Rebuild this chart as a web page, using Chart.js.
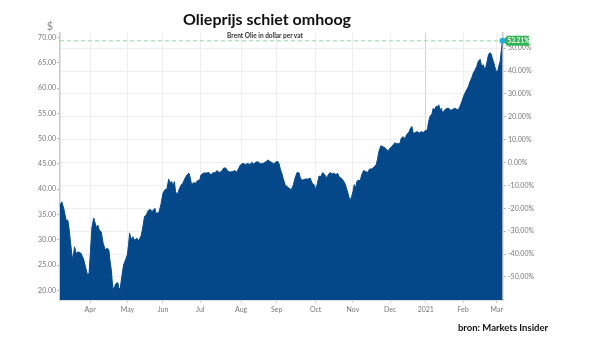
<!DOCTYPE html>
<html>
<head>
<meta charset="utf-8">
<title>Olieprijs schiet omhoog</title>
<script src="https://cdn.jsdelivr.net/npm/chart.js@4.4.1/dist/chart.umd.min.js"></script>
<style>
  html, body { margin: 0; padding: 0; background: #fff; }
  .wrap { position: relative; width: 600px; height: 343px; font-family: Lato, "Open Sans", sans-serif; }
  .wrap canvas { position: absolute; left: 0; top: 0; }
  .txt { position: absolute; white-space: nowrap; transform: translateX(-50%); line-height: 1; }
  #title { left: 267px; top: 11px; font-size: 16px; font-weight: bold; color: #111; }
  #dollar { left: 50px; top: 20px; font-size: 11px; color: #888; }
  #subtitle { left: 265px; top: 33px; font-size: 6.5px; font-weight: bold; color: #333; }
  #source { left: 503px; top: 323px; font-size: 9.5px; font-weight: bold; color: #111; }
</style>
</head>
<body>
<div class="wrap">
  <canvas id="oilChart" width="600" height="343"></canvas>
  <div class="txt" id="title">Olieprijs schiet omhoog</div>
  <div class="txt" id="dollar">$</div>
  <div class="txt" id="subtitle">Brent Olie in dollar per vat</div>
  <div class="txt" id="source">bron: Markets Insider</div>
</div>
<script>
// trading day index (0 = 5 maart 2020) and Brent price in dollar
const tradingDay = [
  2, 3.0, 4.1, 5.5, 6.4, 7.2, 7.9, 8.6, 9.2, 10.2,
  11.1, 12.4, 13.9, 15.4, 16.8, 17.7, 18.4, 19.2, 20.0, 21.0,
  21.8, 22.6, 23.3, 24.1, 25.2, 26.3, 27.5, 28.6, 29.5, 30.1,
  30.9, 31.8, 32.7, 33.7, 34.6, 35.1, 35.9, 36.8, 37.8, 38.9,
  39.9, 40.6, 41.2, 42.1, 43.0, 44.0, 45.3, 46.4, 47.8, 48.7,
  49.6, 50.6, 51.7, 52.9, 53.8, 54.7, 55.4, 56.2, 57.7, 58.8,
  60.0, 61.1, 62.2, 63.2, 63.9, 64.9, 65.6, 66.4, 67.1, 68.1,
  69.0, 70.3, 71.2, 72.2, 73.5, 74.6, 75.4, 76.1, 77.3, 78.4,
  79.5, 80.7, 81.4, 82.9, 84.4, 85.9, 87.0, 88.2, 89.3, 90.4,
  91.5, 92.9, 94.2, 95.3, 96.6, 98.0, 99.4, 100.6, 101.4, 102.5,
  103.6, 105.1, 106.6, 107.7, 108.9, 110.0, 111.1, 112.6, 113.8, 114.9,
  116.4, 117.9, 119.0, 120.1, 121.3, 122.4, 123.5, 124.7, 125.4, 126.2,
  126.9, 127.6, 128.8, 129.9, 131.0, 132.2, 133.3, 134.4, 135.5, 136.7,
  137.5, 138.6, 140.3, 141.7, 142.9, 144.0, 145.1, 146.1, 147.0, 147.9,
  148.9, 150.0, 151.2, 152.1, 153.0, 154.1, 155.3, 156.4, 157.5, 158.3,
  159.1, 160.2, 161.3, 162.4, 163.6, 164.7, 165.4, 166.2, 167.0, 167.7,
  168.5, 169.2, 169.9, 171.1, 171.9, 173.0, 174.1, 175.2, 176.4, 177.8,
  179.0, 180.1, 180.9, 181.6, 182.7, 183.9, 185.0, 186.0, 186.9, 187.8,
  188.8, 189.7, 190.6, 191.6, 192.5, 193.5, 194.2, 195.3, 196.3, 197.2,
  198.4, 199.5, 200.2, 201.0, 202.1, 203.2, 204.3, 205.5, 206.6, 207.7,
  208.9, 209.6, 210.4, 211.5, 212.2, 213.0, 213.8, 214.5, 215.3, 216.0,
  216.8, 217.5, 218.7, 219.8, 220.9, 222.1, 223.2, 224.3, 225.4, 226.3,
  227.3, 228.3, 229.2, 230.1, 231.1, 232.0, 232.9, 233.9, 234.8, 235.8,
  236.7, 237.6, 238.6, 239.5, 240.4, 241.4, 242.4, 243.3, 244.1, 244.8,
  245.5, 246.3, 247.4, 248.3, 249.1, 249.9, 250.6, 251.2
];
const brentPrice = [
  36.8, 37.5, 36.2, 33.8, 33.9, 31.9, 29.6, 27.3, 26.0, 28.6,
  27.3, 27.6, 27.3, 26.0, 24.0, 22.8, 23.5, 28.0, 32.5, 34.3,
  33.3, 32.3, 32.9, 31.9, 31.6, 29.3, 28.0, 28.3, 28.0, 26.0,
  24.0, 20.1, 20.7, 21.4, 21.5, 20.4, 20.3, 22.7, 25.0, 26.0,
  27.0, 29.0, 31.3, 30.0, 30.6, 29.9, 30.3, 29.8, 30.9, 32.6,
  34.6, 34.9, 35.8, 36.0, 35.6, 35.9, 36.2, 35.2, 35.4, 36.9,
  39.2, 39.9, 40.0, 42.0, 41.2, 41.5, 40.6, 41.5, 39.5, 38.9,
  39.9, 40.9, 41.2, 42.0, 42.8, 43.2, 42.2, 40.9, 41.3, 41.2,
  41.7, 41.8, 42.8, 43.2, 43.2, 43.3, 42.8, 43.3, 43.2, 43.7,
  43.3, 43.5, 44.2, 44.2, 43.5, 43.4, 43.5, 43.7, 43.3, 44.0,
  44.8, 45.1, 44.9, 45.1, 44.9, 45.3, 45.0, 45.4, 45.4, 45.0,
  45.1, 45.4, 45.8, 45.5, 45.3, 45.0, 45.4, 45.5, 45.0, 43.8,
  43.2, 42.2, 40.9, 40.5, 40.2, 39.9, 40.7, 42.2, 43.3, 43.2,
  42.0, 41.8, 42.0, 42.0, 42.2, 41.2, 40.9, 39.9, 41.2, 42.6,
  42.5, 43.3, 42.8, 42.2, 42.8, 43.3, 43.0, 43.2, 42.8, 43.2,
  42.5, 42.2, 41.8, 41.2, 39.9, 38.5, 37.7, 38.5, 39.5, 40.9,
  40.2, 41.5, 41.8, 41.7, 42.8, 43.7, 43.5, 43.3, 44.0, 44.0,
  44.5, 44.8, 46.1, 47.4, 48.6, 48.4, 48.2, 47.8, 47.6, 48.1,
  48.4, 48.8, 49.2, 49.0, 49.0, 49.1, 50.1, 50.4, 49.9, 50.8,
  51.2, 52.1, 52.4, 51.0, 51.2, 51.4, 51.1, 51.4, 51.2, 51.6,
  51.7, 53.4, 54.4, 54.9, 56.0, 55.7, 56.4, 56.2, 56.7, 55.7,
  56.0, 55.0, 55.7, 56.0, 56.0, 55.6, 55.8, 56.0, 55.8, 55.7,
  56.4, 57.3, 58.3, 59.0, 59.7, 60.3, 61.3, 62.0, 63.0, 63.6,
  64.3, 65.3, 65.7, 64.3, 64.6, 63.5, 65.0, 66.6, 67.0, 66.8,
  65.9, 65.0, 63.6, 63.0, 64.3, 65.3, 67.6, 69.36
];

// first trading day of each month
const monthTicks = [19, 40, 60, 81, 104, 124, 146, 167, 188, 208, 229, 248];
const monthLabels = ['Apr', 'May', 'Jun', 'Jul', 'Aug', 'Sep', 'Oct', 'Nov', 'Dec', '2021', 'Feb', 'Mar'];
const yearTick = 208;

const priceTicks = [20, 25, 30, 35, 40, 45, 50, 55, 60, 65, 70];
const pctTicks = [-50, -40, -30, -20, -10, 0, 10, 20, 30, 40, 50];
const basePrice = 45.27;   // price at 0.00%
const priceMin = 18.08;
const priceMax = 70.9;

document.addEventListener("DOMContentLoaded", function () {
    const colorBlue = '#05488a';
    const colorGreen = '#2fb553';
    const lastPrice = brentPrice[brentPrice.length - 1];
    const toPct = p => (p / basePrice - 1) * 100;

    const points = tradingDay.map((d, i) => ({ x: d, y: brentPrice[i] }));

    // dashed line + green tag with the change of the last price
    const lastPricePlugin = {
        id: 'lastPrice',
        beforeDatasetsDraw(chart) {
            const { ctx, chartArea, scales } = chart;
            const y = scales.y.getPixelForValue(lastPrice);
            const x = chartArea.right;

            ctx.save();
            ctx.strokeStyle = '#95d9a6';
            ctx.lineWidth = 1;
            ctx.setLineDash([4, 3]);
            ctx.beginPath();
            ctx.moveTo(chartArea.left, y);
            ctx.lineTo(chartArea.right, y);
            ctx.stroke();
            ctx.setLineDash([]);

            ctx.fillStyle = colorGreen;
            ctx.beginPath();
            ctx.moveTo(x, y);
            ctx.lineTo(x + 4, y - 5);
            ctx.lineTo(x + 26, y - 5);
            ctx.lineTo(x + 26, y + 5);
            ctx.lineTo(x + 4, y + 5);
            ctx.closePath();
            ctx.fill();

            ctx.fillStyle = '#fff';
            ctx.font = 'bold 6.5px Lato';
            ctx.textAlign = 'center';
            ctx.textBaseline = 'middle';
            ctx.fillText(toPct(lastPrice).toFixed(2) + '%', x + 15.5, y + 0.5);
            ctx.restore();
        }
    };

    const tickFont = { family: 'Lato', size: 7 };

    new Chart(document.getElementById('oilChart'), {
        type: 'line',
        data: {
            datasets: [{
                label: 'Brent',
                data: points,
                borderColor: colorBlue,
                backgroundColor: colorBlue,
                borderWidth: 1,
                fill: 'start',
                tension: 0,
                clip: 6,
                pointRadius: ctx => ctx.dataIndex === points.length - 1 ? 3 : 0,
                pointBackgroundColor: '#2aa8e0',
                pointBorderWidth: 0
            }]
        },
        options: {
            responsive: false,
            animation: false,
            layout: { padding: { top: 33, left: 0, right: 0, bottom: 0 } },
            plugins: {
                legend: { display: false },
                tooltip: { enabled: false }
            },
            scales: {
                x: {
                    type: 'linear',
                    min: 2,
                    max: 251.5,
                    afterBuildTicks: s => { s.ticks = monthTicks.map(v => ({ value: v })); },
                    afterFit: s => { s.height = 43; },
                    grid: {
                        color: c => (c.tick && c.tick.value === yearTick) ? '#d4d4d4' : '#eeeeee',
                        tickLength: 3,
                        tickColor: '#cccccc'
                    },
                    border: { color: '#c8c8c8', width: 1.5 },
                    ticks: {
                        autoSkip: false,
                        maxRotation: 0,
                        padding: 3,
                        color: '#777',
                        font: tickFont,
                        callback: (v, i) => monthLabels[i]
                    }
                },
                y: {
                    position: 'left',
                    min: priceMin,
                    max: priceMax,
                    afterBuildTicks: s => { s.ticks = priceTicks.map(v => ({ value: v })); },
                    afterFit: s => { s.width = 60; },
                    grid: { drawOnChartArea: false, tickLength: 3, color: '#bbbbbb' },
                    border: { color: '#c8c8c8', width: 1.5 },
                    ticks: {
                        padding: 1,
                        color: '#777',
                        font: tickFont,
                        callback: v => v.toFixed(2)
                    }
                },
                y1: {
                    position: 'right',
                    min: toPct(priceMin),
                    max: toPct(priceMax),
                    afterBuildTicks: s => { s.ticks = pctTicks.map(v => ({ value: v })); },
                    afterFit: s => { s.width = 97; },
                    grid: { color: '#eeeeee', tickLength: 3, tickColor: '#bbbbbb' },
                    border: { color: '#c8c8c8', width: 1.5 },
                    ticks: {
                        padding: 2,
                        color: '#777',
                        font: tickFont,
                        callback: v => v.toFixed(2) + '%'
                    }
                }
            }
        },
        plugins: [lastPricePlugin]
    });
});
</script>
</body>
</html>
